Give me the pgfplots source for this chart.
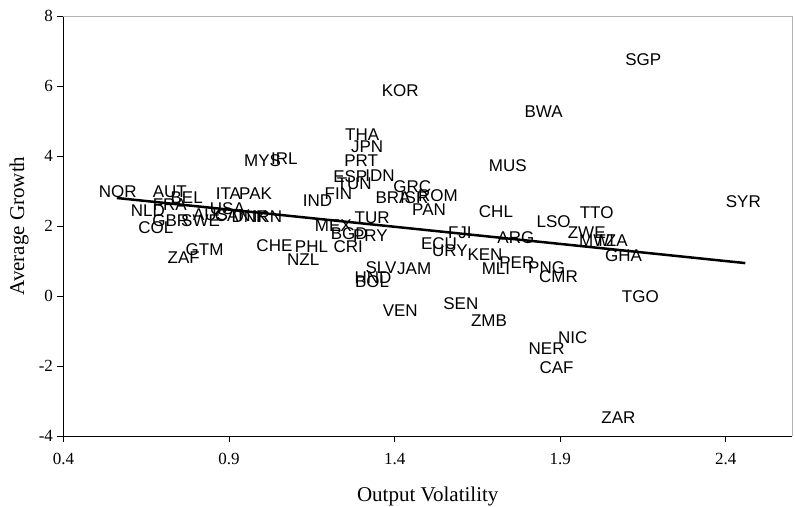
\documentclass[border=0pt]{standalone}
\usepackage{fontspec}
\setmainfont{Liberation Serif}
\newfontfamily\arialfont{Liberation Sans}
\usepackage{pgfplots}
\pgfplotsset{compat=1.18}
\usepackage{pgfplotstable}

\pgfplotstableread{
label x y
SGP 2.151 6.74
KOR 1.417 5.86
BWA 1.850 5.26
THA 1.302 4.60
JPN 1.317 4.26
MYS 1.001 3.86
IRL 1.067 3.91
PRT 1.299 3.86
MUS 1.742 3.71
ESP 1.266 3.40
IDN 1.356 3.43
TUN 1.278 3.20
GRC 1.453 3.11
FIN 1.230 2.91
IND 1.167 2.71
BRA 1.395 2.80
ISR 1.459 2.80
ROM 1.531 2.86
PAN 1.504 2.46
TUR 1.332 2.23
MEX 1.215 2.00
BGD 1.263 1.77
PRY 1.327 1.71
FJI 1.597 1.80
CHE 1.037 1.43
PHL 1.149 1.40
CRI 1.260 1.40
NZL 1.124 1.03
SLV 1.359 0.80
JAM 1.459 0.77
HND 1.335 0.51
BOL 1.332 0.40
VEN 1.417 -0.43
ECU 1.534 1.49
URY 1.567 1.29
KEN 1.673 1.17
MLI 1.706 0.77
PER 1.769 0.94
PNG 1.859 0.80
CMR 1.895 0.54
ARG 1.766 1.66
CHL 1.706 2.40
LSO 1.880 2.11
TTO 2.010 2.37
ZWE 1.980 1.80
MWI 2.010 1.57
TZA 2.055 1.57
GHA 2.091 1.14
SYR 2.453 2.69
TGO 2.142 -0.03
SEN 1.600 -0.23
ZMB 1.685 -0.71
NIC 1.938 -1.20
NER 1.859 -1.51
CAF 1.889 -2.06
ZAR 2.076 -3.49
NOR 0.564 2.97
AUT 0.721 2.97
BEL 0.772 2.80
FRA 0.721 2.60
ITA 0.898 2.91
PAK 0.980 2.91
NLD 0.655 2.43
USA 0.895 2.49
GBR 0.724 2.14
SWE 0.814 2.14
AUS 0.844 2.31
CAN 0.911 2.29
DNK 0.962 2.26
IRN 1.016 2.26
COL 0.679 1.94
GTM 0.826 1.31
ZAF 0.763 1.09
}\countries

\begin{document}
\begin{tikzpicture}
\useasboundingbox (-63.5pt,-70pt) rectangle (731.5pt,436pt);
\begin{axis}[
  at={(0,0)}, anchor=south west,
  scale only axis, width=728.5pt, height=420pt,
  xmin=0.4, xmax=2.6, ymin=-4, ymax=8,
  xtick={0.4,0.9,1.4,1.9,2.4}, ytick={-4,-2,0,2,4,6,8},
  axis x line*=bottom, axis y line*=left,
  axis line style={-, line width=0.9pt, black},
  tick align=outside, major tick length=6pt,
  tick style={black, line width=0.8pt},
  minor tick num=0,
  /pgf/number format/assume math mode=true,
  xticklabel style={font=\fontsize{17}{17}\selectfont, yshift=-8pt, /pgf/number format/fixed, /pgf/number format/precision=1, /pgf/number format/fixed zerofill},
  yticklabel style={font=\fontsize{17}{17}\selectfont, xshift=-1pt},
  xlabel={Output Volatility}, ylabel={Average Growth},
  xlabel style={font=\fontsize{21}{21}\selectfont, at={(axis description cs:0.5,-0.157)}, anchor=base},
  ylabel style={font=\fontsize{21}{21}\selectfont, at={(axis description cs:-0.061,0.5)}, anchor=center},
  clip=false,
]
\draw[gray!60, line width=0.8pt] (rel axis cs:0,1) -- (rel axis cs:1,1) -- (rel axis cs:1,0);
\addplot[black, line width=2.5pt] coordinates {(0.561,2.80) (2.459,0.94)};
\addplot[only marks, mark=none, point meta=explicit symbolic,
  nodes near coords,
  every node near coord/.append style={anchor=center, inner sep=0pt, font=\arialfont\fontsize{17}{17}\selectfont, text=black}]
  table[x=x, y=y, meta=label] {\countries};
\end{axis}
\end{tikzpicture}
\end{document}
